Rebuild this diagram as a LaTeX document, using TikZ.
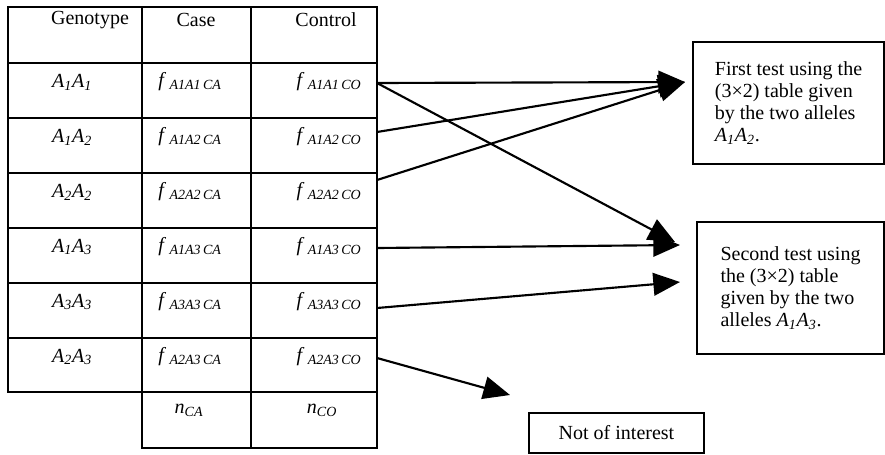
\documentclass[tikz,border=0pt]{standalone}
\usepackage{fontspec}
\setmainfont{Liberation Serif}
\usetikzlibrary{arrows.meta}
\newcommand{\gtp}[2]{\textit{A}\textsubscript{\textit{#1}}\textit{A}\textsubscript{\textit{#2}}}
\newcommand{\frq}[3]{\textit{f}\,\textsubscript{\textit{A#1A#2\,#3}}}
\begin{document}
\begin{tikzpicture}[x=0.75pt,y=-0.75pt,
  cell/.style={font=\fontsize{15}{17}\selectfont},
  tbox/.style={draw,line width=1.4pt,align=left,inner sep=0pt,font=\fontsize{15}{16.5}\selectfont},
  arr/.style={line width=1.6pt,-{Triangle[length=20pt,width=17pt]}}]
\useasboundingbox (0,0) rectangle (885,454);
% 表
\draw[line width=1.3pt] (8,7) rectangle (377,392);
\draw[line width=1.3pt] (142,7) -- (142,448) -- (377,448) -- (377,392);
\draw[line width=1.3pt] (251,7) -- (251,448);
\foreach \y in {63,118,...,338} \draw[line width=1.3pt] (8,\y) -- (377,\y);
% 見出し
\node[cell] (hg) at (90,20) {Genotype};
\node[cell] (hca) at (196,20) {Case};
\node[cell] (hco) at (326,20) {Control};
% 遺伝子型
\foreach \a/\b/\y [count=\i] in {1/1/82,1/2/137,2/2/192,1/3/247,3/3/302,2/3/357}{
  \node[cell] (g\i) at (72,\y) {\gtp{\a}{\b}};
  \node[cell] (ca\i) at (190,\y) {\frq{\a}{\b}{CA}};
  \node[cell] (co\i) at (329,\y) {\frq{\a}{\b}{CO}};
}
\node[cell] (nca) at (189,410) {\textit{n}\textsubscript{\textit{CA}}};
\node[cell] (nco) at (322,410) {\textit{n}\textsubscript{\textit{CO}}};
% 検定
\node[tbox,minimum width=143pt,minimum height=91.5pt] (first) at (788.5,103)
  {First test using the\\(3×2) table given\\by the two alleles\\\gtp{1}{2}.};
\node[tbox,minimum width=140pt,minimum height=99pt] (second) at (790.5,288)
  {Second test using\\the (3×2) table\\given by the two\\alleles \gtp{1}{3}.};
\node[tbox,minimum width=131pt,minimum height=30pt] (none) at (616.5,433) {Not of interest};
% 矢印
\coordinate (e1) at (377,83);
\coordinate (e2) at (377,132);
\coordinate (e3) at (377,180);
\coordinate (e4) at (377,248);
\coordinate (e5) at (377,308);
\coordinate (e6) at (377,358);
\coordinate (t1) at (685,82);
\coordinate (t2) at (675,242);
\coordinate (t3) at (680,245);
\coordinate (t4) at (680,282);
\coordinate (t5) at (510,395);
\draw[arr] (e1) -- (t1);
\draw[arr] (e2) -- (t1);
\draw[arr] (e3) -- (t1);
\draw[arr] (e1) -- (t2);
\draw[arr] (e4) -- (t3);
\draw[arr] (e5) -- (t4);
\draw[arr] (e6) -- (t5);
\end{tikzpicture}
\end{document}
